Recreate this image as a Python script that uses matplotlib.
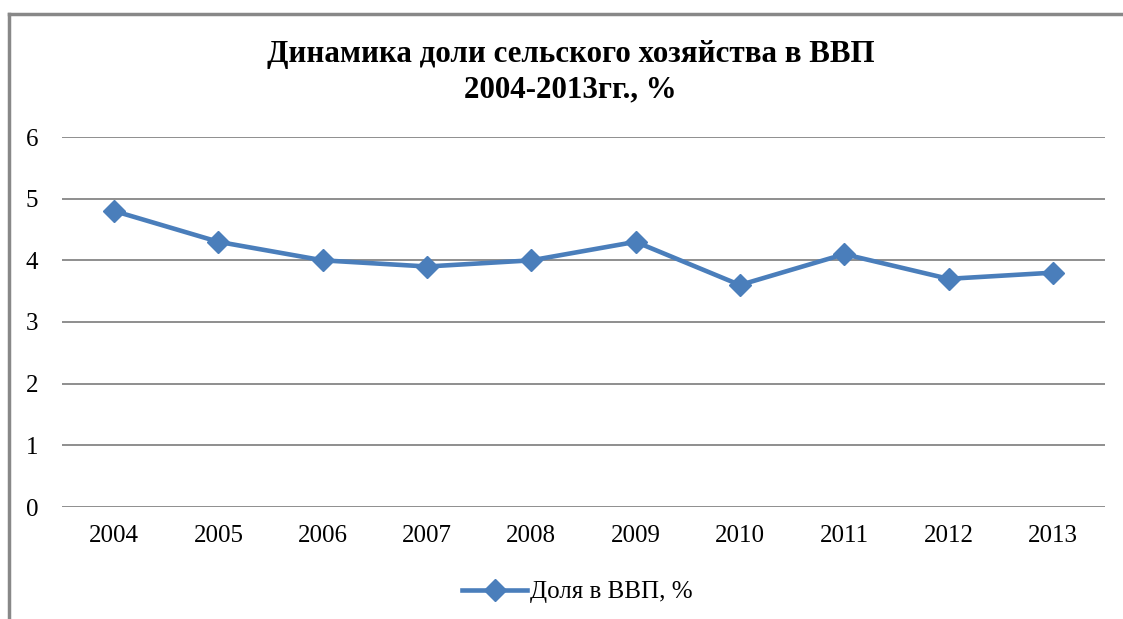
import matplotlib.pyplot as plt
from matplotlib.lines import Line2D

years = ['2004', '2005', '2006', '2007', '2008', '2009', '2010', '2011', '2012', '2013']
share = [4.8, 4.3, 4.0, 3.9, 4.0, 4.3, 3.6, 4.1, 3.7, 3.8]
yticks = [0, 1, 2, 3, 4, 5, 6]

plt.rcParams['font.family'] = ['Liberation Serif', 'DejaVu Serif']

fig = plt.figure(figsize=(11.23, 6.19), dpi=100)
ax = fig.add_axes([62 / 1123, 1 - 507 / 619, (1105 - 62) / 1123, (507 - 137) / 619])

blue = '#4A7EBB'
x = list(range(len(years)))
ax.plot(x, share, color=blue, lw=3.3, marker='D', ms=11, mec=blue, mfc=blue)

ax.set_xlim(-0.5, len(years) - 0.5)
ax.set_ylim(0, 6)
ax.set_yticks(yticks)
ax.set_xticks(x)
ax.set_xticklabels(years)
ax.grid(axis='y', color='#868686', lw=1.3)
ax.set_axisbelow(True)
for s in ax.spines.values():
    s.set_visible(False)
ax.tick_params(length=0, labelsize=18, colors='black')
ax.tick_params(axis='x', pad=13)
ax.tick_params(axis='y', pad=17)

fig.text(0.508, 0.884, 'Динамика доли сельского хозяйства в ВВП\n2004-2013гг., %',
         ha='center', va='center', fontsize=22.3, fontweight='bold', linespacing=1.3)

h = Line2D([], [], color=blue, lw=3.3, marker='D', ms=11, mec=blue, mfc=blue)
fig.legend([h], ['Доля в ВВП, %'], loc='center', bbox_to_anchor=(0.514, 1 - 592 / 619),
           frameon=False, fontsize=18, handlelength=2.6, handletextpad=0.1)

# gray frame at left/top
fig.add_artist(Line2D([9 / 1123, 9 / 1123], [0, 1 - 14 / 619], color='#888888', lw=2.5))
fig.add_artist(Line2D([9 / 1123, 1], [1 - 14 / 619, 1 - 14 / 619], color='#888888', lw=2.5))

fig.savefig('out.png', dpi=100, facecolor='white')
